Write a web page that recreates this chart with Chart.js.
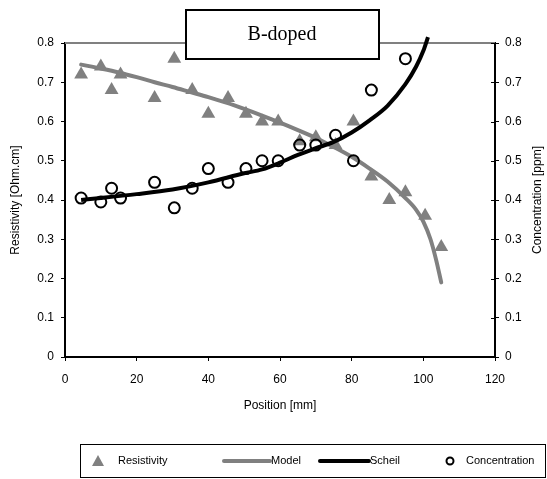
<!DOCTYPE html>
<html>
<head>
<meta charset="utf-8">
<script src="https://cdn.jsdelivr.net/npm/chart.js@4"></script>
<style>
  body { margin: 0; background: #fff; }
  #wrap { width: 547px; height: 479px; }
</style>
</head>
<body>
<div id="wrap"><canvas id="chart" width="547" height="479"></canvas></div>
<script>
// Measured points
const posRes = [4.5, 10, 13, 15.5, 25, 30.5, 35.5, 40, 45.5, 50.5, 55, 59.5, 65.5, 70, 75.5, 80.5, 85.5, 90.5, 95, 100.5, 105];
const resistivity = [0.72, 0.74, 0.68, 0.72, 0.66, 0.76, 0.68, 0.62, 0.66, 0.62, 0.60, 0.60, 0.55, 0.56, 0.54, 0.60, 0.46, 0.40, 0.42, 0.36, 0.28];
const posConc = [4.5, 10, 13, 15.5, 25, 30.5, 35.5, 40, 45.5, 50.5, 55, 59.5, 65.5, 70, 75.5, 80.5, 85.5, 95];
const concentration = [0.405, 0.395, 0.43, 0.405, 0.445, 0.38, 0.43, 0.48, 0.445, 0.48, 0.50, 0.50, 0.54, 0.54, 0.565, 0.50, 0.68, 0.76];

// Fitted curves
const posModel = [4.5, 10, 15, 20, 25, 30, 35, 40, 45, 50, 55, 60, 65, 70, 75, 80, 85, 90, 95, 98, 100, 102, 103.5, 105];
const model = [0.745, 0.735, 0.725, 0.713, 0.70, 0.688, 0.675, 0.662, 0.648, 0.632, 0.615, 0.597, 0.578, 0.558, 0.535, 0.51, 0.48, 0.447, 0.405, 0.375, 0.345, 0.30, 0.25, 0.19];
const posScheil = [4.5, 10, 20, 30, 40, 50, 55, 60, 65, 70, 75, 80, 85, 90, 95, 98, 100, 101.3];
const scheil = [0.40, 0.405, 0.415, 0.427, 0.445, 0.468, 0.478, 0.495, 0.515, 0.532, 0.548, 0.572, 0.603, 0.64, 0.695, 0.74, 0.78, 0.815];

const xTicks = [0, 20, 40, 60, 80, 100, 120];
const yTicks = [0, 0.1, 0.2, 0.3, 0.4, 0.5, 0.6, 0.7, 0.8];

const GRAY = '#808080';
const FONT = '"Liberation Sans", Arial, sans-serif';

function pts(xs, ys) {
    return xs.map((x, i) => ({ x: x, y: ys[i] }));
}

Chart.defaults.font.family = FONT;
Chart.defaults.font.size = 12;
Chart.defaults.color = '#000';

// frame, title box, right axis title and legend
const decorPlugin = {
    id: 'decor',
    beforeDatasetsDraw(chart) {
        const { ctx, chartArea: a } = chart;
        ctx.save();
        ctx.strokeStyle = GRAY;
        ctx.lineWidth = 2;
        ctx.beginPath();
        ctx.moveTo(a.left, a.top);
        ctx.lineTo(a.right, a.top);
        ctx.stroke();
        // inner tick marks on the right axis
        const y2 = chart.scales.y2;
        ctx.strokeStyle = '#000';
        ctx.lineWidth = 1;
        yTicks.forEach(v => {
            const py = Math.round(y2.getPixelForValue(v)) + 0.5;
            ctx.beginPath();
            ctx.moveTo(a.right - 4, py);
            ctx.lineTo(a.right, py);
            ctx.stroke();
        });
        ctx.restore();
    },
    afterDraw(chart) {
        const { ctx, chartArea: a } = chart;
        ctx.save();
        // title box
        ctx.fillStyle = '#fff';
        ctx.fillRect(186, 10, 193, 49);
        ctx.strokeStyle = '#000';
        ctx.lineWidth = 2;
        ctx.strokeRect(186, 10, 193, 49);
        ctx.fillStyle = '#000';
        ctx.font = '20px "Liberation Serif", "Times New Roman", serif';
        ctx.textAlign = 'center';
        ctx.textBaseline = 'middle';
        ctx.fillText('B-doped', 282, 35);

        // right axis title, reading bottom to top
        ctx.font = '12px ' + FONT;
        ctx.translate(538, (a.top + a.bottom) / 2);
        ctx.rotate(-Math.PI / 2);
        ctx.fillText('Concentration [ppm]', 0, 0);
        ctx.setTransform(1, 0, 0, 1, 0, 0);

        // legend
        ctx.strokeStyle = '#000';
        ctx.lineWidth = 1;
        ctx.strokeRect(80.5, 444.5, 465, 33);
        const ly = 461;
        ctx.font = '11px ' + FONT;
        ctx.textAlign = 'left';
        ctx.textBaseline = 'middle';

        ctx.fillStyle = GRAY;
        ctx.beginPath();
        ctx.moveTo(98, ly - 6);
        ctx.lineTo(104, ly + 5);
        ctx.lineTo(92, ly + 5);
        ctx.closePath();
        ctx.fill();
        ctx.fillStyle = '#000';
        ctx.fillText('Resistivity', 118, ly);

        ctx.lineCap = 'round';
        ctx.strokeStyle = GRAY;
        ctx.lineWidth = 4;
        ctx.beginPath();
        ctx.moveTo(224, ly);
        ctx.lineTo(270, ly);
        ctx.stroke();
        ctx.fillText('Model', 271, ly);

        ctx.strokeStyle = '#000';
        ctx.beginPath();
        ctx.moveTo(320, ly);
        ctx.lineTo(369, ly);
        ctx.stroke();
        ctx.fillText('Scheil', 370, ly);

        ctx.lineWidth = 2;
        ctx.beginPath();
        ctx.arc(450, ly, 3.5, 0, Math.PI * 2);
        ctx.stroke();
        ctx.fillText('Concentration', 466, ly);
        ctx.restore();
    }
};

new Chart(document.getElementById('chart'), {
    type: 'scatter',
    data: {
        datasets: [{
            label: 'Concentration',
            data: pts(posConc, concentration),
            yAxisID: 'y2',
            pointStyle: 'circle',
            pointRadius: 5.5,
            pointBorderWidth: 2,
            borderColor: '#000',
            backgroundColor: 'rgba(0,0,0,0)',
            showLine: false,
            order: 0
        },
        {
            label: 'Scheil',
            data: pts(posScheil, scheil),
            yAxisID: 'y2',
            showLine: true,
            borderColor: '#000',
            borderWidth: 4,
            pointRadius: 0,
            cubicInterpolationMode: 'monotone',
            clip: false,
            order: 1
        },
        {
            label: 'Model',
            data: pts(posModel, model),
            yAxisID: 'y',
            showLine: true,
            borderColor: GRAY,
            borderWidth: 4,
            borderCapStyle: 'round',
            pointRadius: 0,
            cubicInterpolationMode: 'monotone',
            order: 2
        },
        {
            label: 'Resistivity',
            data: pts(posRes, resistivity),
            yAxisID: 'y',
            pointStyle: 'triangle',
            pointRadius: 8,
            pointBorderWidth: 0,
            borderColor: GRAY,
            backgroundColor: GRAY,
            showLine: false,
            order: 3
        }]
    },
    options: {
        responsive: false,
        animation: false,
        layout: { padding: { top: 43, left: 0, right: 0, bottom: 66 } },
        plugins: {
            legend: { display: false },
            tooltip: { enabled: false }
        },
        scales: {
            x: {
                type: 'linear',
                min: 0,
                max: 120,
                afterFit: s => { s.height = 56; },
                afterBuildTicks: s => { s.ticks = xTicks.map(v => ({ value: v })); },
                ticks: { padding: 11, color: '#000', font: { size: 12 } },
                grid: { drawOnChartArea: false, tickLength: 4, color: '#000' },
                border: { color: '#000', width: 2 },
                title: { display: true, text: 'Position [mm]', color: '#000', font: { size: 12 }, padding: 0 }
            },
            y: {
                position: 'left',
                min: 0,
                max: 0.8,
                afterFit: s => { s.width = 65; },
                afterBuildTicks: s => { s.ticks = yTicks.map(v => ({ value: v })); },
                ticks: { padding: 7, color: '#000', font: { size: 12 }, callback: v => String(+v.toFixed(1)) },
                grid: { drawOnChartArea: false, tickLength: 4, color: '#000' },
                border: { color: '#000', width: 2 },
                title: { display: true, text: 'Resistivity [Ohm.cm]', color: '#000', font: { size: 12 }, padding: { top: 8, bottom: 0 } }
            },
            y2: {
                position: 'right',
                min: 0,
                max: 0.8,
                afterFit: s => { s.width = 52; },
                afterBuildTicks: s => { s.ticks = yTicks.map(v => ({ value: v })); },
                ticks: { padding: 6, color: '#000', font: { size: 12 }, callback: v => String(+v.toFixed(1)) },
                grid: { drawOnChartArea: false, tickLength: 4, color: '#000' },
                border: { color: '#000', width: 2 }
            }
        }
    },
    plugins: [decorPlugin]
});
</script>
</body>
</html>
